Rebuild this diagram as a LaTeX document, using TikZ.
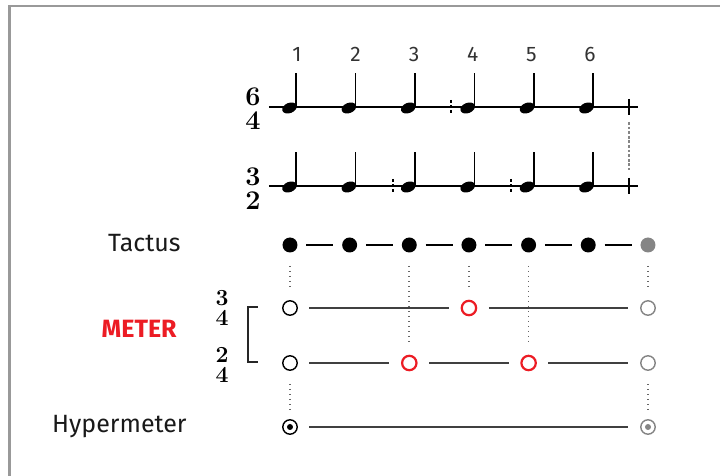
\documentclass[tikz,border=0pt]{standalone}
\usepackage{fontspec}
\usepackage{tikz}
\usetikzlibrary{positioning}
\newfontfamily\labelfont{Fira Sans}
\definecolor{accentRed}{RGB}{236,28,36}
\colorlet{lastBeat}{black!48}
\colorlet{levelLine}{black!75}
\colorlet{frameGray}{black!40}

\begin{document}
\begin{tikzpicture}[
  x=0.5pt, y=-0.5pt,
  frame/.style={
    draw=frameGray,
    line width=1pt
  },
  staff line/.style={
    draw=black,
    line width=0.9pt
  },
  half bar/.style={
    draw=black,
    line width=0.7pt,
    dash pattern=on 1.5pt off 1.1pt
  },
  bar link/.style={
    draw=lastBeat,
    line width=0.8pt,
    dash pattern=on 1.4pt off 0.9pt
  },
  quarter/.pic={
    \fill[rotate=22] (0,0) ellipse [x radius=7.6, y radius=5.1];
    \draw[line width=0.8pt] (6.8,-1.5) -- (6.8,-35);
  },
  beat number/.style={
    font=\labelfont\fontsize{10.5}{10.5}\selectfont,
    text=black!80,
    inner sep=0pt,
    anchor=base
  },
  time sig/.style={
    font=\fontsize{13.5}{12}\selectfont\bfseries,
    align=center,
    inner sep=0pt
  },
  small sig/.style={
    time sig,
    font=\fontsize{11.5}{10}\selectfont\bfseries
  },
  row label/.style={
    font=\labelfont\fontsize{12.5}{12.5}\selectfont,
    text=black!90,
    inner sep=0pt,
    anchor=base east
  },
  tactus dot/.style={
    circle,
    fill=black,
    inner sep=0pt,
    minimum size=7.5pt
  },
  level dot/.style={
    circle,
    draw=black,
    fill=white,
    line width=0.7pt,
    inner sep=0pt,
    minimum size=7.2pt
  },
  accent dot/.style={
    level dot,
    draw=accentRed,
    line width=1.1pt
  },
  last dot/.style={
    level dot,
    draw=lastBeat
  },
  hyper dot/.style={
    level dot,
    draw=#1,
    path picture={
      \fill[#1] (path picture bounding box.center) circle (1.5pt);
    }
  },
  hyper dot/.default=black,
  tactus link/.style={
    draw=black,
    line width=0.9pt,
    shorten <=4.2pt,
    shorten >=4.2pt
  },
  level link/.style={
    draw=levelLine,
    line width=1.05pt,
    shorten <=5.8pt,
    shorten >=5.8pt
  },
  grid link/.style={
    draw=black!60,
    line width=0.8pt,
    dash pattern=on 0.8pt off 1.7pt,
    shorten <=6.5pt,
    shorten >=5pt
  },
  bracket/.style={
    draw=black!85,
    line width=0.7pt
  }
]
\useasboundingbox (0,0) rectangle (720,476);
\draw[frame] (9.5,476) |- (720,6.5);

\foreach \s/\y in {top/107,low/186}
{
  \coordinate (\s-start) at (269,\y);
  \coordinate (\s-end) at (638,\y);
  \draw[staff line] (\s-start) -- (\s-end);
  \draw[staff line] (629,\y-8) -- (629,\y+8);
  \foreach \k in {1,...,6}
    \pic at (289.5+59.4*\k-59.4,\y+1) {quarter};
}
\foreach \k in {1,...,6}
  \node[beat number] (num\k) at (297+58.6*\k-58.6,62) {\k};
\draw[half bar] (451,100) -- (451,114);
\foreach \x in {393,511}
  \draw[half bar] (\x,179) -- (\x,193);
\draw[bar link] (629,122) -- (629,170);

\node[time sig] (sig64) at (253,109) {6\\4};
\node[time sig] (sig32) at (253,188.5) {3\\2};

\foreach \k in {1,...,6}
  \node[tactus dot] (t\k) at (290+59.65*\k-59.65,245) {};
\node[tactus dot,fill=lastBeat] (t7) at (648,245) {};
\foreach[evaluate=\k as \kmo using int(\k-1)] \k in {2,...,7}
  \draw[tactus link] (t\kmo) -- (t\k);

\node[level dot] (a1) at (t1 |- 0,308) {};
\node[accent dot] (a2) at (t4 |- 0,308) {};
\node[last dot] (a3) at (t7 |- 0,308) {};

\node[level dot] (b1) at (t1 |- 0,363) {};
\node[accent dot] (b2) at (t3 |- 0,363) {};
\node[accent dot] (b3) at (t5 |- 0,363) {};
\node[last dot] (b4) at (t7 |- 0,363) {};

\node[hyper dot] (h1) at (t1 |- 0,427) {};
\node[hyper dot=lastBeat] (h2) at (t7 |- 0,427) {};

\foreach \p/\q in {a1/a2,a2/a3,b1/b2,b2/b3,b3/b4,h1/h2}
  \draw[level link] (\p) -- (\q);
\foreach \p/\q in {t1/a1,t4/a2,t7/a3,t3/b2,t5/b3,b1/h1,b4/h2}
  \draw[grid link] (\p) -- (\q);

\node[small sig] (sig34) at (222,307.5) {3\\4};
\node[small sig] (sig24) at (222,365) {2\\4};
\draw[bracket] (258,307) -| (248,362) -- (258,362);

\node[row label] (tactus) at (181,252) {Tactus};
\node[row label,text=accentRed,font=\labelfont\bfseries\fontsize{12.5}{12.5}\selectfont] (meter) at (177,338) {METER};
\node[row label] (hyper) at (187,433) {Hypermeter};
\end{tikzpicture}
\end{document}
